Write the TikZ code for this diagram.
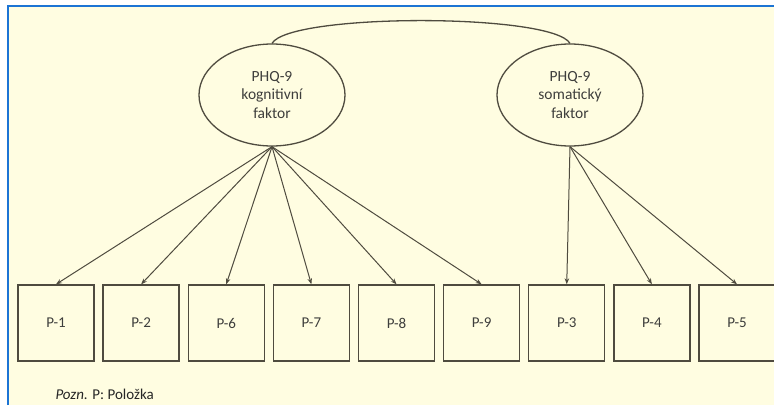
\documentclass[tikz,border=0pt]{standalone}
\usepackage{fontspec}
\setmainfont{Carlito}
\usetikzlibrary{shapes,arrows.meta,positioning}
\definecolor{cream}{HTML}{FFFDE1}
\definecolor{linegray}{HTML}{4F4B3F}
\definecolor{textgray}{HTML}{3E3E3C}
\definecolor{frameblue}{HTML}{1C74D4}
\begin{document}
\begin{tikzpicture}[x=1pt,y=-1pt,
    factor/.style={draw=linegray, line width=1.3pt, ellipse, minimum width=146pt, minimum height=102pt, inner sep=0pt, align=center, text=textgray, font=\fontsize{15.5}{18.5}\selectfont},
    item/.style={draw=linegray, line width=1.4pt, minimum size=76pt, inner sep=0pt, text=textgray, font=\fontsize{15}{18}\selectfont},
    load/.style={draw=linegray, line width=1pt, -{Stealth[length=6pt,width=4.5pt]}}]
    % Background and frame
    \useasboundingbox (0,0) rectangle (774,405);
    \fill[white] (0,0) rectangle (774,405);
    \fill[cream] (8,6) rectangle (774,405);
    \draw[frameblue, line width=2.5pt] (8,405) -- (8,6) -- (774,6);
    
    % Factors
    \node[factor] (kog) at (272,95) {PHQ-9\\kognitivní\\faktor};
    \node[factor] (som) at (570,95) {PHQ-9\\somatický\\faktor};
    \draw[linegray, line width=1.3pt] (kog.north) .. controls (290,13) and (552,13) .. (som.north);
    
    % Items
    \foreach \lbl [count=\i from 0] in {1,2,6,7,8,9,3,4,5}
        \node[item] (p\lbl) at (56+85.125*\i,323) {P-\lbl};
    
    % Loadings
    \foreach \k in {1,2,6,7,8,9}
        \draw[load] (kog.south) -- (p\k.north);
    \foreach \k in {3,4,5}
        \draw[load] (som.south) -- (p\k.north);
    
    \node[anchor=base west, text=black!85, font=\fontsize{15}{17}\selectfont] (pozn) at (52,399) {\textit{Pozn.} P: Položka};
\end{tikzpicture}
\end{document}
